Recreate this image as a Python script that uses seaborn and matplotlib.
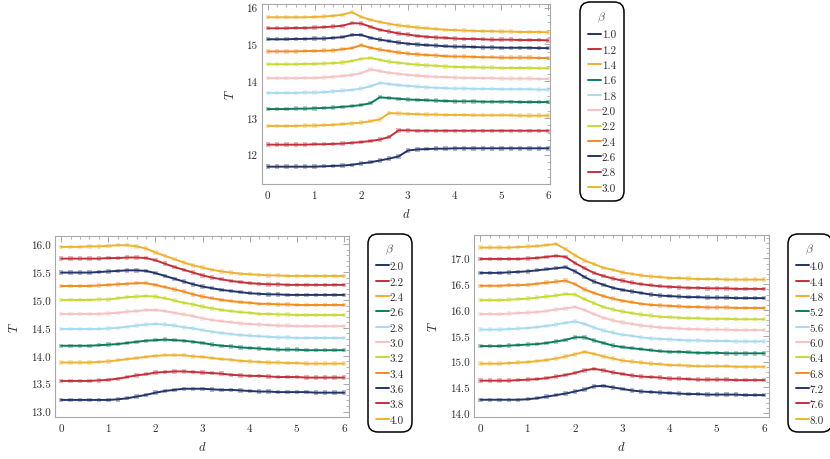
import numpy as np
import pandas as pd
import matplotlib
matplotlib.use("Agg")
import matplotlib.pyplot as plt
import seaborn as sns
from matplotlib.ticker import MultipleLocator, FormatStrFormatter
from matplotlib.lines import Line2D

sns.set_theme(style="white")
plt.rcParams["font.family"] = ["cmr10", "DejaVu Serif"]
plt.rcParams["mathtext.fontset"] = "cm"
plt.rcParams["axes.formatter.use_mathtext"] = True
plt.rcParams["axes.unicode_minus"] = False

# ---------------- data ----------------
d = [0.0, 0.2, 0.4, 0.6, 0.8, 1.0, 1.2, 1.4, 1.6, 1.8, 2.0, 2.2, 2.4, 2.6, 2.8, 3.0,
     3.2, 3.4, 3.6, 3.8, 4.0, 4.2, 4.4, 4.6, 4.8, 5.0, 5.2, 5.4, 5.6, 5.8, 6.0]

# top panel, beta = 1.0 ... 3.0
top_beta = ["1.0", "1.2", "1.4", "1.6", "1.8", "2.0", "2.2", "2.4", "2.6", "2.8", "3.0"]
t10 = [11.67, 11.67, 11.67, 11.67, 11.67, 11.67, 11.68, 11.69, 11.70, 11.72, 11.76, 11.79, 11.84, 11.89, 11.95, 12.11,
       12.14, 12.15, 12.16, 12.16, 12.17, 12.17, 12.17, 12.17, 12.17, 12.17, 12.17, 12.17, 12.17, 12.17, 12.17]
t12 = [12.27, 12.27, 12.27, 12.27, 12.27, 12.28, 12.28, 12.29, 12.30, 12.32, 12.34, 12.37, 12.41, 12.48, 12.66, 12.66,
       12.65, 12.65, 12.65, 12.65, 12.65, 12.65, 12.65, 12.65, 12.65, 12.65, 12.65, 12.65, 12.65, 12.65, 12.65]
t14 = [12.78, 12.78, 12.78, 12.78, 12.79, 12.79, 12.80, 12.81, 12.83, 12.85, 12.87, 12.91, 12.96, 13.13, 13.12, 13.11,
       13.10, 13.09, 13.09, 13.08, 13.08, 13.08, 13.07, 13.07, 13.07, 13.07, 13.07, 13.06, 13.06, 13.06, 13.06]
t16 = [13.24, 13.24, 13.24, 13.25, 13.25, 13.26, 13.27, 13.28, 13.30, 13.32, 13.35, 13.40, 13.56, 13.54, 13.52, 13.50,
       13.49, 13.48, 13.47, 13.46, 13.45, 13.45, 13.45, 13.44, 13.44, 13.44, 13.44, 13.43, 13.43, 13.43, 13.43]
t18 = [13.68, 13.68, 13.68, 13.68, 13.69, 13.69, 13.70, 13.72, 13.74, 13.76, 13.80, 13.86, 13.95, 13.92, 13.89, 13.87,
       13.85, 13.83, 13.82, 13.81, 13.80, 13.80, 13.79, 13.79, 13.79, 13.78, 13.78, 13.78, 13.78, 13.77, 13.77]
t20 = [14.08, 14.08, 14.08, 14.08, 14.09, 14.09, 14.10, 14.12, 14.14, 14.17, 14.22, 14.32, 14.27, 14.23, 14.20, 14.17,
       14.15, 14.13, 14.12, 14.11, 14.10, 14.09, 14.09, 14.08, 14.08, 14.07, 14.07, 14.07, 14.07, 14.06, 14.06]
t22 = [14.46, 14.46, 14.46, 14.46, 14.47, 14.47, 14.48, 14.49, 14.51, 14.55, 14.61, 14.63, 14.58, 14.53, 14.50, 14.47,
       14.45, 14.43, 14.42, 14.40, 14.39, 14.38, 14.38, 14.37, 14.37, 14.36, 14.36, 14.36, 14.36, 14.35, 14.35]
t24 = [14.81, 14.81, 14.81, 14.81, 14.82, 14.82, 14.83, 14.84, 14.87, 14.90, 14.98, 14.91, 14.86, 14.82, 14.78, 14.75,
       14.73, 14.71, 14.70, 14.68, 14.67, 14.67, 14.66, 14.65, 14.65, 14.64, 14.64, 14.64, 14.64, 14.63, 14.63]
t26 = [15.14, 15.14, 15.14, 15.15, 15.15, 15.16, 15.16, 15.18, 15.20, 15.26, 15.26, 15.18, 15.13, 15.09, 15.05, 15.02,
       15.00, 14.98, 14.97, 14.95, 14.94, 14.94, 14.93, 14.92, 14.92, 14.91, 14.91, 14.91, 14.91, 14.90, 14.90]
t28 = [15.44, 15.44, 15.44, 15.45, 15.45, 15.46, 15.47, 15.49, 15.51, 15.58, 15.57, 15.48, 15.40, 15.35, 15.30, 15.27,
       15.23, 15.21, 15.19, 15.18, 15.16, 15.15, 15.15, 15.14, 15.13, 15.13, 15.13, 15.12, 15.12, 15.12, 15.11]
t30 = [15.74, 15.74, 15.74, 15.74, 15.74, 15.75, 15.76, 15.78, 15.81, 15.88, 15.75, 15.67, 15.61, 15.56, 15.52, 15.49,
       15.46, 15.44, 15.42, 15.40, 15.39, 15.38, 15.37, 15.36, 15.36, 15.35, 15.35, 15.34, 15.34, 15.34, 15.33]

# bottom-left panel, beta = 2.0 ... 4.0
left_beta = ["2.0", "2.2", "2.4", "2.6", "2.8", "3.0", "3.2", "3.4", "3.6", "3.8", "4.0"]
l20 = [13.21, 13.21, 13.21, 13.21, 13.21, 13.21, 13.22, 13.24, 13.27, 13.30, 13.34, 13.37, 13.39, 13.41, 13.41, 13.41,
       13.40, 13.39, 13.39, 13.38, 13.37, 13.36, 13.36, 13.35, 13.35, 13.35, 13.35, 13.34, 13.34, 13.34, 13.34]
l22 = [13.55, 13.55, 13.55, 13.55, 13.56, 13.57, 13.59, 13.62, 13.65, 13.67, 13.70, 13.71, 13.72, 13.72, 13.71, 13.70,
       13.69, 13.68, 13.66, 13.65, 13.64, 13.64, 13.63, 13.62, 13.62, 13.62, 13.61, 13.61, 13.61, 13.61, 13.61]
l24 = [13.88, 13.88, 13.88, 13.88, 13.89, 13.90, 13.92, 13.94, 13.96, 13.98, 14.00, 14.01, 14.01, 14.01, 13.99, 13.98,
       13.96, 13.94, 13.93, 13.91, 13.90, 13.89, 13.88, 13.88, 13.87, 13.87, 13.86, 13.86, 13.86, 13.86, 13.86]
l26 = [14.18, 14.18, 14.18, 14.18, 14.19, 14.20, 14.21, 14.23, 14.25, 14.27, 14.28, 14.29, 14.28, 14.27, 14.25, 14.23,
       14.20, 14.18, 14.17, 14.15, 14.14, 14.13, 14.12, 14.11, 14.11, 14.11, 14.10, 14.10, 14.10, 14.10, 14.10]
l28 = [14.48, 14.48, 14.48, 14.48, 14.48, 14.49, 14.50, 14.52, 14.54, 14.56, 14.57, 14.56, 14.54, 14.51, 14.49, 14.46,
       14.43, 14.41, 14.39, 14.37, 14.36, 14.35, 14.34, 14.33, 14.33, 14.32, 14.32, 14.32, 14.32, 14.32, 14.32]
l30 = [14.75, 14.75, 14.75, 14.75, 14.75, 14.76, 14.77, 14.79, 14.80, 14.82, 14.82, 14.80, 14.77, 14.74, 14.71, 14.67,
       14.64, 14.62, 14.60, 14.58, 14.57, 14.56, 14.55, 14.54, 14.54, 14.53, 14.53, 14.53, 14.53, 14.53, 14.53]
l32 = [15.00, 15.00, 15.00, 15.00, 15.01, 15.01, 15.03, 15.05, 15.06, 15.07, 15.06, 15.03, 14.99, 14.95, 14.92, 14.88,
       14.85, 14.82, 14.80, 14.78, 14.77, 14.75, 14.75, 14.74, 14.74, 14.73, 14.73, 14.73, 14.73, 14.73, 14.73]
l34 = [15.25, 15.25, 15.25, 15.25, 15.26, 15.27, 15.28, 15.29, 15.30, 15.30, 15.27, 15.23, 15.19, 15.15, 15.10, 15.06,
       15.03, 15.00, 14.98, 14.96, 14.95, 14.93, 14.93, 14.92, 14.92, 14.91, 14.91, 14.91, 14.91, 14.91, 14.91]
l36 = [15.49, 15.49, 15.49, 15.49, 15.50, 15.51, 15.52, 15.53, 15.53, 15.52, 15.48, 15.43, 15.38, 15.33, 15.28, 15.24,
       15.21, 15.18, 15.16, 15.14, 15.12, 15.11, 15.10, 15.10, 15.09, 15.09, 15.09, 15.09, 15.09, 15.09, 15.09]
l38 = [15.74, 15.74, 15.74, 15.74, 15.74, 15.75, 15.75, 15.76, 15.76, 15.75, 15.71, 15.65, 15.59, 15.54, 15.49, 15.44,
       15.40, 15.37, 15.34, 15.32, 15.30, 15.29, 15.28, 15.28, 15.27, 15.27, 15.27, 15.27, 15.27, 15.27, 15.27]
l40 = [15.95, 15.95, 15.95, 15.96, 15.96, 15.97, 15.98, 15.98, 15.96, 15.92, 15.85, 15.79, 15.73, 15.67, 15.62, 15.58,
       15.54, 15.51, 15.49, 15.47, 15.46, 15.45, 15.44, 15.44, 15.43, 15.43, 15.43, 15.43, 15.43, 15.43, 15.43]

# bottom-right panel, beta = 4.0 ... 8.0
right_beta = ["4.0", "4.4", "4.8", "5.2", "5.6", "6.0", "6.4", "6.8", "7.2", "7.6", "8.0"]
r40 = [14.26, 14.26, 14.26, 14.26, 14.26, 14.27, 14.29, 14.32, 14.35, 14.38, 14.42, 14.46, 14.52, 14.53, 14.50, 14.47,
       14.44, 14.42, 14.41, 14.40, 14.39, 14.38, 14.37, 14.37, 14.36, 14.36, 14.36, 14.36, 14.35, 14.35, 14.35]
r44 = [14.63, 14.63, 14.63, 14.63, 14.64, 14.65, 14.66, 14.68, 14.71, 14.74, 14.78, 14.83, 14.86, 14.83, 14.79, 14.76,
       14.73, 14.71, 14.70, 14.69, 14.67, 14.67, 14.66, 14.65, 14.65, 14.65, 14.65, 14.64, 14.64, 14.64, 14.64]
r48 = [14.96, 14.96, 14.96, 14.97, 14.98, 14.99, 15.01, 15.03, 15.06, 15.10, 15.14, 15.19, 15.15, 15.10, 15.06, 15.02,
       15.00, 14.98, 14.96, 14.95, 14.93, 14.93, 14.92, 14.91, 14.91, 14.91, 14.91, 14.90, 14.90, 14.90, 14.90]
r52 = [15.30, 15.30, 15.30, 15.31, 15.32, 15.33, 15.34, 15.36, 15.39, 15.42, 15.47, 15.47, 15.41, 15.36, 15.31, 15.28,
       15.26, 15.24, 15.22, 15.20, 15.19, 15.19, 15.18, 15.17, 15.17, 15.17, 15.16, 15.16, 15.16, 15.16, 15.16]
r56 = [15.62, 15.62, 15.62, 15.63, 15.64, 15.65, 15.67, 15.69, 15.72, 15.75, 15.78, 15.73, 15.66, 15.60, 15.56, 15.52,
       15.50, 15.47, 15.45, 15.44, 15.43, 15.42, 15.41, 15.41, 15.40, 15.40, 15.40, 15.39, 15.39, 15.39, 15.39]
r60 = [15.92, 15.92, 15.92, 15.93, 15.94, 15.95, 15.96, 15.98, 16.01, 16.03, 16.06, 16.00, 15.92, 15.85, 15.80, 15.76,
       15.73, 15.70, 15.68, 15.66, 15.65, 15.64, 15.63, 15.63, 15.62, 15.62, 15.62, 15.61, 15.61, 15.61, 15.61]
r64 = [16.19, 16.19, 16.19, 16.20, 16.21, 16.22, 16.24, 16.26, 16.28, 16.31, 16.30, 16.21, 16.13, 16.06, 16.01, 15.97,
       15.94, 15.91, 15.89, 15.87, 15.86, 15.85, 15.84, 15.84, 15.83, 15.83, 15.83, 15.82, 15.82, 15.82, 15.82]
r68 = [16.47, 16.47, 16.47, 16.48, 16.48, 16.49, 16.51, 16.53, 16.55, 16.57, 16.50, 16.40, 16.33, 16.27, 16.22, 16.18,
       16.15, 16.12, 16.10, 16.09, 16.08, 16.07, 16.06, 16.06, 16.05, 16.05, 16.05, 16.04, 16.04, 16.04, 16.04]
r72 = [16.72, 16.72, 16.72, 16.73, 16.74, 16.75, 16.77, 16.79, 16.81, 16.83, 16.75, 16.64, 16.55, 16.49, 16.43, 16.39,
       16.36, 16.33, 16.30, 16.28, 16.27, 16.26, 16.25, 16.25, 16.24, 16.24, 16.24, 16.23, 16.23, 16.23, 16.23]
r76 = [16.99, 16.99, 16.99, 16.99, 16.99, 17.00, 17.01, 17.03, 17.05, 17.03, 16.91, 16.81, 16.72, 16.66, 16.61, 16.57,
       16.53, 16.50, 16.48, 16.46, 16.45, 16.44, 16.43, 16.43, 16.42, 16.42, 16.42, 16.41, 16.41, 16.41, 16.41]
r80 = [17.21, 17.21, 17.21, 17.21, 17.22, 17.23, 17.24, 17.26, 17.28, 17.18, 17.06, 16.96, 16.89, 16.82, 16.78, 16.73,
       16.70, 16.67, 16.65, 16.64, 16.62, 16.62, 16.61, 16.60, 16.60, 16.60, 16.59, 16.59, 16.59, 16.59, 16.59]

top_series = [t10, t12, t14, t16, t18, t20, t22, t24, t26, t28, t30]
left_series = [l20, l22, l24, l26, l28, l30, l32, l34, l36, l38, l40]
right_series = [r40, r44, r48, r52, r56, r60, r64, r68, r72, r76, r80]

palette = ["#22346a", "#c2303a", "#eeb232", "#0e7b5b", "#a7d9f1", "#f6c1c1",
           "#c5da35", "#f38b20", "#22346a", "#c2303a", "#eeb232"]

# ---------------- figure ----------------
fig = plt.figure(figsize=(8.3, 4.6), dpi=100)
fig.patch.set_facecolor("white")

FRAME = "#a8a8a8"
TXT = "#2a2a2a"


def panel(rect, betas, series, ylim, xlim, ymaj, ymin, leg_anchor, lspace):
    ax = fig.add_axes(rect)
    frames = [pd.DataFrame({"d": d, "T": vals, "beta": b}) for b, vals in zip(betas, series)]
    df = pd.concat(frames, ignore_index=True)
    pal = dict(zip(betas, palette))
    sns.scatterplot(data=df, x="d", y="T", hue="beta", hue_order=betas, palette=pal,
                    marker="s", s=10, alpha=0.35, linewidth=0, legend=False, ax=ax, zorder=2)
    sns.lineplot(data=df, x="d", y="T", hue="beta", hue_order=betas, palette=pal,
                 estimator=None, sort=False, linewidth=1.4, legend=False, ax=ax, zorder=3)
    ax.set_xlim(*xlim)
    ax.set_ylim(*ylim)
    ax.xaxis.set_major_locator(MultipleLocator(1))
    ax.xaxis.set_minor_locator(MultipleLocator(0.2))
    ax.yaxis.set_major_locator(MultipleLocator(ymaj))
    ax.yaxis.set_minor_locator(MultipleLocator(ymin))
    ax.yaxis.set_major_formatter(FormatStrFormatter("%.1f" if ymaj < 1 else "%d"))
    ax.tick_params(which="both", direction="in", top=True, right=True, colors=FRAME,
                   labelcolor=TXT, labelsize=8, pad=3)
    ax.tick_params(which="major", length=4, width=0.7)
    ax.tick_params(which="minor", length=2, width=0.6)
    for s in ax.spines.values():
        s.set_color(FRAME)
        s.set_linewidth(0.8)
    ax.set_facecolor("white")
    ax.set_xlabel(r"$d$", fontsize=9, color=TXT, labelpad=5)
    ax.set_ylabel(r"$T$", fontsize=9, color=TXT, labelpad=7)
    handles = [Line2D([0], [0], color=palette[i], lw=1.4) for i in range(len(betas))]
    leg = fig.legend(handles, betas, title=r"$\beta$", loc="upper left",
                     bbox_to_anchor=leg_anchor, bbox_transform=fig.transFigure,
                     frameon=True, fancybox=True, borderaxespad=0, fontsize=8,
                     title_fontsize=8.5, handlelength=1.15, handletextpad=0.1,
                     labelspacing=lspace, borderpad=0.4)
    fr = leg.get_frame()
    fr.set_edgecolor("black")
    fr.set_linewidth(1.1)
    fr.set_facecolor("white")
    fr.set_alpha(1)
    fr.set_boxstyle("round", pad=0.3, rounding_size=0.9)
    leg.get_title().set_color("#555555")
    for t in leg.get_texts():
        t.set_color(TXT)
    return ax


panel([0.3153, 0.598, 0.3474, 0.391], top_beta, top_series, (11.2, 16.1), (-0.13, 6.04),
      1, 0.2, (0.7028, 0.9863), 0.50)
panel([0.0663, 0.092, 0.3545, 0.3934], left_beta, left_series, (12.91, 16.15), (-0.13, 6.11),
      0.5, 0.1, (0.4474, 0.482), 0.50)
panel([0.5714, 0.0907, 0.3551, 0.3969], right_beta, right_series, (13.92, 17.46), (-0.13, 6.10),
      0.5, 0.1, (0.9534, 0.482), 0.50)

fig.savefig("out.png", dpi=100, facecolor="white")
